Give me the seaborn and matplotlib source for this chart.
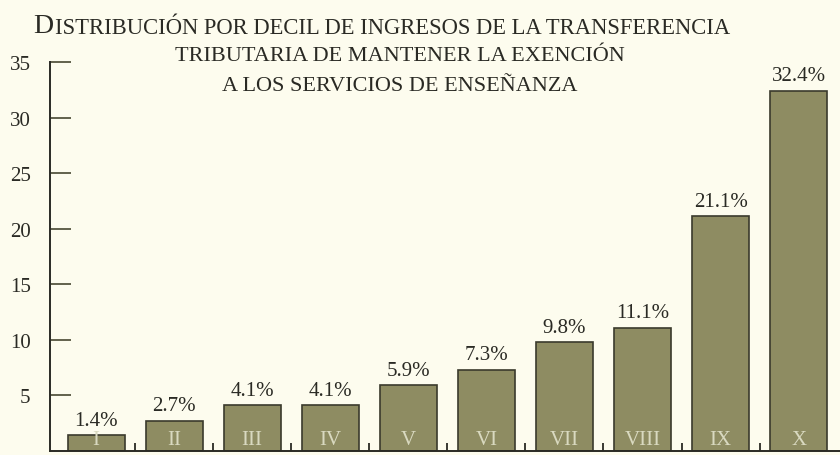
import seaborn as sns
import pandas as pd
import matplotlib
matplotlib.use("Agg")
from matplotlib import pyplot

deciles = ["I", "II", "III", "IV", "V", "VI", "VII", "VIII", "IX", "X"]
shares = [1.4, 2.7, 4.1, 4.1, 5.9, 7.3, 9.8, 11.1, 21.1, 32.4]
share_labels = ["1.4%", "2.7%", "4.1%", "4.1%", "5.9%", "7.3%", "9.8%", "11.1%", "21.1%", "32.4%"]
yticks = [5, 10, 15, 20, 25, 30, 35]

paper = "#fdfcee"
ink = "#2a2a24"
bar_color = "#8e8c62"

sns.set_theme(style="white")
pyplot.rcParams["font.family"] = ["Liberation Serif", "DejaVu Serif"]

fig = pyplot.figure(figsize=(8.4, 4.56), dpi=100, facecolor=paper)
ax = fig.add_axes([50 / 840, 4 / 456, 1 - 50 / 840, (452 - 63) / 456])
ax.set_facecolor(paper)

df = pd.DataFrame({"decil": deciles, "share": shares})
sns.barplot(data=df, x="decil", y="share", color=bar_color, saturation=1,
            width=0.73, edgecolor="#3a3a2c", linewidth=1.2, ax=ax)

ax.bar_label(ax.containers[0], labels=share_labels, padding=4,
             fontsize=15, color=ink)

# roman numerals printed inside the bar feet
for i, d in enumerate(deciles):
    ax.text(i, 0.15, d, ha="center", va="bottom", fontsize=15,
            color="#d9d9c0")

ax.set_xlim(-0.59, 9.53)
ax.set_ylim(0, 35)
ax.set_yticks(yticks)
ax.set_yticklabels([str(t) for t in yticks], fontsize=15, color=ink)
ax.tick_params(axis="y", direction="in", length=15, width=1.3, color="#55553f",
               pad=14, left=True)
ax.set_xticks([])
ax.set_xticks([k + 0.5 for k in range(9)], minor=True)
ax.tick_params(axis="x", which="minor", direction="in", length=6, width=1.3,
               color=ink, bottom=True)
ax.set_xlabel("")
ax.set_ylabel("")
sns.despine(ax=ax)
for side in ("left", "bottom"):
    ax.spines[side].set_color(ink)
    ax.spines[side].set_linewidth(1.4)

# small-caps style title
t1 = fig.text(33 / 840, 1 - 33 / 456, "D", fontsize=20, color=ink,
              ha="left", va="baseline")
pyplot.annotate("ISTRIBUCIÓN POR DECIL DE INGRESOS DE LA TRANSFERENCIA",
                xy=(1, 0), xycoords=t1, xytext=(1, 0), textcoords="offset points",
                fontsize=16.3, color=ink, ha="left", va="bottom",
                annotation_clip=False)
fig.text(400 / 840, 1 - 61 / 456, "TRIBUTARIA DE MANTENER LA EXENCIÓN",
         fontsize=16, color=ink, ha="center", va="baseline")
fig.text(400 / 840, 1 - 91 / 456, "A LOS SERVICIOS DE ENSEÑANZA",
         fontsize=16, color=ink, ha="center", va="baseline")

fig.savefig("out.png", dpi=100, facecolor=paper)
